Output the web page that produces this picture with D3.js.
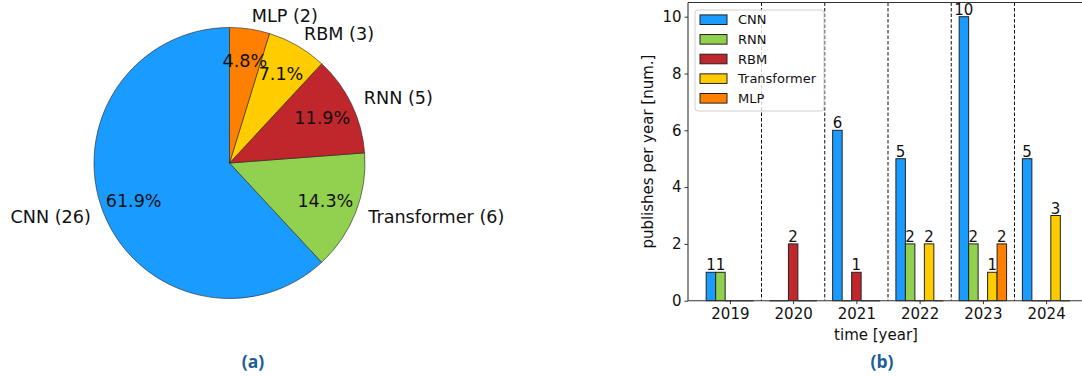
<!DOCTYPE html>
<html>
<head>
<meta charset="utf-8">
<script src="https://cdn.jsdelivr.net/npm/d3@7"></script>
<style>
  html, body { margin: 0; padding: 0; background: #fff; }
  svg { display: block; font-family: "DejaVu Sans", sans-serif; }
</style>
</head>
<body>
<svg id="chart" width="1082" height="376"></svg>
<script>
// ---- Pie: share of architectures ----
const pieLabels = ["CNN", "Transformer", "RNN", "RBM", "MLP"];
const pieCounts = [26, 6, 5, 3, 2];
const pieColors = ["#1a9bff", "#92d050", "#c0272d", "#ffcc00", "#ff8000"];

// ---- Bars: publications per year ----
const years = ["2019", "2020", "2021", "2022", "2023", "2024"];
const seriesNames = ["CNN", "RNN", "RBM", "Transformer", "MLP"];
const seriesColors = ["#1a9bff", "#92d050", "#c0272d", "#ffcc00", "#ff8000"];
const cnnCounts = [1, 0, 6, 5, 10, 5];
const rnnCounts = [1, 0, 0, 2, 2, 0];
const rbmCounts = [0, 2, 1, 0, 0, 0];
const transformerCounts = [0, 0, 0, 2, 1, 3];
const mlpCounts = [0, 0, 0, 0, 2, 0];
const yTicks = [0, 2, 4, 6, 8, 10];

const captions = ["(a)", "(b)"];

const svg = d3.select("#chart");

// ================= Pie =================
const cx = 229.5, cy = 163, R = 135.5;
const total = d3.sum(pieCounts);
const pieData = pieLabels.map((name, i) => ({ name, value: pieCounts[i], color: pieColors[i] }));

// start at 12 o'clock and run counter-clockwise
const pie = d3.pie().value(d => d.value).sort(null).startAngle(0).endAngle(-2 * Math.PI);
const arcs = pie(pieData);
const arc = d3.arc().innerRadius(0).outerRadius(R);

const gPie = svg.append("g").attr("transform", `translate(${cx},${cy})`);
gPie.selectAll("path.slice").data(arcs).join("path")
  .attr("class", "slice")
  .attr("d", arc)
  .attr("fill", d => d.data.color)
  .attr("stroke", "#222")
  .attr("stroke-width", 0.6)
  .attr("stroke-linejoin", "round");

const midAngle = d => (d.startAngle + d.endAngle) / 2;

gPie.selectAll("text.name").data(arcs).join("text")
  .attr("class", "name")
  .attr("x", d => Math.sin(midAngle(d)) * R * 1.1)
  .attr("y", d => -Math.cos(midAngle(d)) * R * 1.1)
  .attr("text-anchor", d => Math.sin(midAngle(d)) >= 0 ? "start" : "end")
  .attr("dominant-baseline", "central")
  .attr("font-size", 17.6)
  .attr("fill", "#111")
  .text(d => `${d.data.name} (${d.data.value})`);

gPie.selectAll("text.pct").data(arcs).join("text")
  .attr("class", "pct")
  .attr("x", d => Math.sin(midAngle(d)) * R * 0.76)
  .attr("y", d => -Math.cos(midAngle(d)) * R * 0.76)
  .attr("text-anchor", "middle")
  .attr("dominant-baseline", "central")
  .attr("font-size", 17.6)
  .attr("fill", "#111")
  .text(d => (d.value / total * 100).toFixed(1) + "%");

// ================= Grouped bars =================
const plotLeft = 688, plotRight = 1088, plotTop = 2.5, plotBottom = 300.7;
const x = d3.scaleLinear().domain([-0.6625, years.length - 1 + 0.6625]).range([plotLeft, plotRight]);
const y = d3.scaleLinear().domain([0, 10.5]).range([plotBottom, plotTop]);
const barW = 0.15;
const seriesValues = [cnnCounts, rnnCounts, rbmCounts, transformerCounts, mlpCounts];

svg.append("defs").append("clipPath").attr("id", "plotClip")
  .append("rect").attr("x", plotLeft).attr("y", plotTop)
  .attr("width", plotRight - plotLeft).attr("height", plotBottom - plotTop + 2);

const gBar = svg.append("g");

// separators between years
gBar.selectAll("line.sep").data(d3.range(years.length - 1)).join("line")
  .attr("class", "sep")
  .attr("x1", i => x(i + 0.5)).attr("x2", i => x(i + 0.5))
  .attr("y1", plotTop).attr("y2", plotBottom)
  .attr("stroke", "#111").attr("stroke-width", 1)
  .attr("stroke-dasharray", "3.5,2");

const bars = [];
seriesValues.forEach((vals, s) => {
  vals.forEach((v, i) => {
    bars.push({ s, i, v, xc: i + (s - 2) * barW });
  });
});

const gBars = gBar.append("g").attr("clip-path", "url(#plotClip)");
gBars.selectAll("rect.bar").data(bars.filter(b => b.v > 0)).join("rect")
  .attr("class", "bar")
  .attr("x", b => x(b.xc - barW / 2))
  .attr("width", b => x(b.xc + barW / 2) - x(b.xc - barW / 2))
  .attr("y", b => y(b.v))
  .attr("height", b => y(0) - y(b.v))
  .attr("fill", b => seriesColors[b.s])
  .attr("stroke", "#222").attr("stroke-width", 1);

// zero-height bars show as a flat edge on the baseline
gBars.selectAll("line.zero").data(bars.filter(b => b.v === 0)).join("line")
  .attr("class", "zero")
  .attr("x1", b => x(b.xc - barW / 2)).attr("x2", b => x(b.xc + barW / 2))
  .attr("y1", y(0)).attr("y2", y(0))
  .attr("stroke", "#555").attr("stroke-width", 1.5);

// value labels
gBar.selectAll("text.val").data(bars.filter(b => b.v > 0)).join("text")
  .attr("class", "val")
  .attr("x", b => x(b.xc))
  .attr("y", b => y(b.v) - 2)
  .attr("text-anchor", "middle")
  .attr("font-size", 15)
  .attr("fill", "#111")
  .text(b => b.v);

// axes
const yAxis = d3.axisLeft(y).tickValues(yTicks).tickSize(3.5).tickPadding(3);
const gy = svg.append("g").attr("transform", `translate(${plotLeft},0)`).call(yAxis);
gy.select(".domain").remove();
gy.selectAll("text").attr("font-size", 15).attr("font-family", "DejaVu Sans").attr("fill", "#111");
gy.selectAll("line").attr("stroke", "#333");

const xAxis = d3.axisBottom(x).tickValues(d3.range(years.length)).tickFormat(i => years[i]).tickSize(3.5).tickPadding(4);
const gx = svg.append("g").attr("transform", `translate(0,${plotBottom})`).call(xAxis);
gx.select(".domain").remove();
gx.selectAll("text").attr("font-size", 15).attr("font-family", "DejaVu Sans").attr("fill", "#111");
gx.selectAll("line").attr("stroke", "#333");

// spines (right spine falls outside the canvas)
svg.append("line").attr("x1", plotLeft).attr("x2", plotLeft).attr("y1", plotTop).attr("y2", plotBottom)
  .attr("stroke", "#333").attr("stroke-width", 1.1);
svg.append("line").attr("x1", plotLeft).attr("x2", plotRight).attr("y1", plotTop).attr("y2", plotTop)
  .attr("stroke", "#333").attr("stroke-width", 1.1);
svg.append("line").attr("x1", plotLeft).attr("x2", plotRight).attr("y1", plotBottom).attr("y2", plotBottom)
  .attr("stroke", "#333").attr("stroke-width", 1.1);

// axis titles
svg.append("text")
  .attr("transform", `translate(648,${(plotTop + plotBottom) / 2}) rotate(-90)`)
  .attr("text-anchor", "middle").attr("dominant-baseline", "central")
  .attr("font-size", 15).attr("fill", "#111")
  .text("publishes per year [num.]");
svg.append("text")
  .attr("x", (plotLeft + plotRight) / 2 - 12).attr("y", 340)
  .attr("text-anchor", "middle")
  .attr("font-size", 15).attr("fill", "#111")
  .text("time [year]");

// legend
const lg = svg.append("g").attr("transform", "translate(695,10)");
lg.append("rect").attr("x", 0).attr("y", 0).attr("width", 129).attr("height", 101)
  .attr("rx", 3).attr("fill", "#fff").attr("fill-opacity", 0.8)
  .attr("stroke", "#d0d0d0").attr("stroke-width", 1);
const rows = lg.selectAll("g.row").data(seriesNames).join("g")
  .attr("class", "row")
  .attr("transform", (d, i) => `translate(0,${9.7 + i * 19.65})`);
rows.append("rect").attr("x", 5).attr("y", -4.8).attr("width", 27).attr("height", 9.6)
  .attr("fill", (d, i) => seriesColors[i]).attr("stroke", "#222").attr("stroke-width", 1);
rows.append("text").attr("x", 43).attr("y", 0)
  .attr("dominant-baseline", "central").attr("font-size", 13).attr("fill", "#111")
  .text(d => d);

// panel captions
svg.selectAll("text.cap").data(captions).join("text")
  .attr("class", "cap")
  .attr("x", (d, i) => [253, 882][i]).attr("y", 368)
  .attr("text-anchor", "middle")
  .attr("font-family", "'Open Sans', sans-serif")
  .attr("font-weight", "bold").attr("font-size", 17.5)
  .attr("fill", "#1a5d99")
  .text(d => d);
</script>
</body>
</html>
